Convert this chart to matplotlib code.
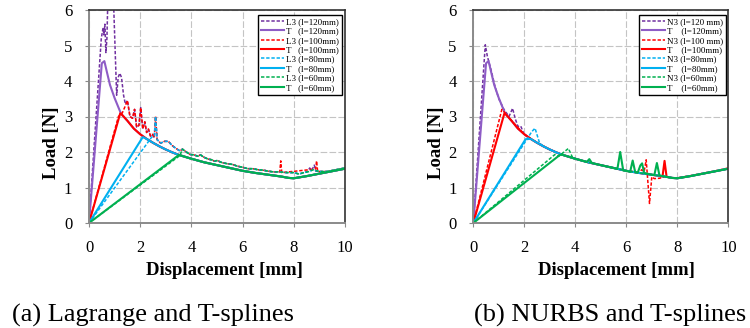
import matplotlib
matplotlib.use("Agg")
import matplotlib.pyplot as plt
import numpy as np

plt.rcParams['font.family'] = ['Liberation Serif', 'DejaVu Serif']

# common decay branch of the T-spline curves
env_x = [0.6, 0.7, 0.82, 1.0, 1.25, 1.5, 1.75, 2.0, 2.25, 2.5, 2.75, 3.0, 3.25, 3.5,
         4.0, 4.5, 5.0, 5.5, 6.0, 6.5, 7.0, 7.5, 7.8, 8.0, 8.5, 9.0, 9.5, 10.0]
env_y = [4.56, 4.25, 3.89, 3.52, 3.08, 2.88, 2.66, 2.5, 2.37, 2.26, 2.16, 2.07, 1.99, 1.92,
         1.81, 1.71, 1.63, 1.55, 1.47, 1.41, 1.36, 1.31, 1.27, 1.26, 1.32, 1.39, 1.46, 1.53]

# rising branches of T curves: (x, y) up to the peak
t120_head_x, t120_head_y = [0, 0.5], [0, 4.5]
t100_head_x, t100_head_y = [0, 1.22], [0, 3.09]
t80_head_x, t80_head_y = [0, 2.1], [0, 2.42]
t60_head_x, t60_head_y = [0, 3.48], [0, 1.9]

# (a) Lagrange L3 curves
l3_120_head_x = [0, 0.48, 0.55, 0.58, 0.62, 0.66, 0.7, 0.74, 0.9, 1.08, 1.14, 1.2, 1.27, 1.35, 1.42]
l3_120_head_y = [0, 5.2, 5.5, 5.3, 5.6, 4.8, 5.2, 6.4, 7.5, 3.6, 4.1, 4.22, 4.1, 3.6, 3.35]
l3_100_head_x = [0, 1.15, 1.3, 1.42]
l3_100_head_y = [0, 3.0, 3.1, 3.3]
l3_80_head_x = [0, 2.45, 2.55]
l3_80_head_y = [0, 2.42, 2.45]
l3_60_head_x = [0, 3.55]
l3_60_head_y = [0, 1.9]

l3_mid_x = [1.5, 1.6, 1.7, 1.78, 1.86, 1.95, 2.02, 2.1, 2.18, 2.25, 2.32, 2.4, 2.48, 2.55,
            2.6, 2.66, 2.8, 2.95, 3.1, 3.25, 3.4, 3.55]
l3_mid_y = [3.45, 3.0, 2.95, 3.2, 2.7, 2.75, 3.25, 2.65, 2.85, 2.55, 2.65, 2.45, 2.5, 2.4,
            3.0, 2.35, 2.25, 2.3, 2.3, 2.18, 2.1, 2.03]

l3_tail_x = [3.65, 3.8, 3.95, 4.1, 4.25, 4.35, 4.5, 4.65, 4.8, 4.9, 5.0, 5.2, 5.4, 5.6, 5.8,
             6.0, 6.2, 6.4, 6.6, 6.8, 7.0, 7.2, 7.4, 7.7, 8.0, 8.2, 8.4, 8.6, 8.75, 9.0, 9.3, 10.0]
l3_tail_y = [2.08, 2.0, 1.93, 1.92, 1.88, 1.92, 1.85, 1.8, 1.78, 1.74, 1.76, 1.7, 1.67, 1.65, 1.6,
             1.57, 1.53, 1.53, 1.5, 1.49, 1.46, 1.44, 1.44, 1.42, 1.42, 1.38, 1.42, 1.45, 1.5, 1.45, 1.45, 1.55]

# spikes of single L3 curves in the tail
l3_100_spike_x = [7.45, 7.49, 7.53, 8.85, 8.89, 8.93]
l3_100_spike_y = [1.44, 1.75, 1.42, 1.52, 1.75, 1.46]
l3_120_spike_x = [8.55, 8.62, 8.7, 8.8, 8.86]
l3_120_spike_y = [1.46, 1.55, 1.48, 1.63, 1.46]

# (b) NURBS N3 curves
n3_120_x = [0, 0.47, 0.55, 0.7, 0.85, 1.0, 1.2, 1.4, 1.54, 1.64, 1.75, 1.86, 1.99, 2.25]
n3_120_y = [0, 5.02, 4.7, 4.3, 3.85, 3.5, 3.2, 3.0, 3.23, 2.95, 2.72, 2.73, 2.5, 2.37]
n3_100_x = [0, 1.12, 1.25, 1.5, 2.0, 2.5, 3.0, 3.5, 4.0, 4.5, 5.0, 5.5, 6.0, 6.5, 6.6, 6.7,
            6.78, 6.91, 7.0, 7.1, 7.3, 7.5, 7.8, 8.0, 8.5, 9.0, 9.5, 10.0]
n3_100_y = [0, 3.2, 3.1, 2.88, 2.5, 2.26, 2.07, 1.92, 1.81, 1.71, 1.63, 1.55, 1.47, 1.42, 1.5, 1.45,
            1.78, 0.55, 1.3, 1.25, 1.26, 1.3, 1.27, 1.27, 1.33, 1.4, 1.47, 1.55]
n3_80_x = [0, 2.29, 2.42, 2.6]
n3_80_y = [0, 2.57, 2.67, 2.25]
n3_60_x = [0, 3.2, 3.35, 3.73, 3.9]
n3_60_y = [0, 1.93, 1.88, 2.1, 1.83]

# (b) T curves with spikes
t80b_head_x, t80b_head_y = [0, 2.05], [0, 2.36]
t100b_spike_x = [7.42, 7.5, 7.58]
t100b_spike_y = [1.31, 1.75, 1.3]
t60b_x = [0, 3.4, 3.5, 4.0, 4.45, 4.55, 4.65, 5.0, 5.5, 5.65, 5.76, 5.88, 6.0, 6.15, 6.25, 6.35,
          6.45, 6.55, 6.62, 6.7, 7.0, 7.1, 7.2, 7.3, 7.5, 7.8, 8.0, 8.5, 9.0, 9.5, 10.0]
t60b_y = [0, 1.92, 1.92, 1.81, 1.72, 1.8, 1.69, 1.63, 1.55, 1.52, 2.0, 1.48, 1.47, 1.44, 1.76, 1.43,
          1.42, 1.62, 1.68, 1.41, 1.36, 1.35, 1.69, 1.34, 1.31, 1.27, 1.26, 1.32, 1.39, 1.46, 1.53]

c_purple_d, c_purple = '#7030A0', '#8E5CC6'
c_red = '#FF0000'
c_blue = '#00B0F0'
c_green = '#00B050'


def join(hx, hy, tx, ty):
    # head points followed by the tail points that lie beyond the head
    xs, ys = list(hx), list(hy)
    for x, y in zip(tx, ty):
        if x > xs[-1]:
            xs.append(x)
            ys.append(y)
    return xs, ys


def merge(base_x, base_y, sx, sy):
    # insert spike points into a curve
    pts = [(x, y) for x, y in zip(base_x, base_y) if not (sx[0] <= x <= sx[-1])]
    pts += list(zip(sx, sy))
    pts.sort()
    return [p[0] for p in pts], [p[1] for p in pts]


def t_curve(hx, hy):
    return join(hx, hy, env_x, env_y)


def style_axes(ax, lbl_x):
    ax.set_xlim(0, 10)
    ax.set_ylim(0, 6)
    ax.set_xticks(range(0, 11, 2))
    ax.set_yticks(range(0, 7))
    ax.grid(True, color='#C4C4C4', linestyle=(0, (6, 2)), linewidth=0.8)
    ax.set_axisbelow(True)
    for s in ['top', 'right']:
        ax.spines[s].set_color('#333333')
        ax.spines[s].set_linewidth(1.2)
    for s in ['left', 'bottom']:
        ax.spines[s].set_color('#8A8A8A')
        ax.spines[s].set_linewidth(1.4)
    ax.tick_params(length=3, pad=9, labelsize=12, color='#8A8A8A')
    ax.text(-0.145, 0.378, 'Load [N]', transform=ax.transAxes, rotation=90,
            fontsize=13.5, fontweight='bold', ha='center', va='center')
    ax.text(lbl_x, -0.244, 'Displacement [mm]', transform=ax.transAxes,
            fontsize=13.5, fontweight='bold', ha='center', va='baseline')


fig = plt.figure(figsize=(7.5, 3.28), dpi=100)
ax1 = fig.add_axes([89 / 750, 105 / 328, 256 / 750, 213 / 328])
ax2 = fig.add_axes([473.3 / 750, 105 / 328, 255 / 750, 213 / 328])

lw_d, lw_s = 1.1, 1.5
dash = (2.2, 1.2)

# ---- (a) Lagrange and T-splines
x, y = join(l3_120_head_x, l3_120_head_y, l3_mid_x, l3_mid_y)
x, y = join(x, y, l3_tail_x, l3_tail_y)
x, y = merge(x, y, l3_120_spike_x, l3_120_spike_y)
ax1.plot(x, y, color=c_purple_d, lw=lw_d, dashes=dash, label='L3 (l=120mm)')
x, y = t_curve(t120_head_x, t120_head_y)
ax1.plot(x, y, color=c_purple, lw=lw_s, label='T   (l=120mm)')
x, y = join(l3_100_head_x, l3_100_head_y, l3_mid_x, l3_mid_y)
x, y = join(x, y, l3_tail_x, l3_tail_y)
x, y = merge(x, y, l3_100_spike_x, l3_100_spike_y)
ax1.plot(x, y, color=c_red, lw=lw_d, dashes=dash, label='L3 (l=100mm)')
x, y = t_curve(t100_head_x, t100_head_y)
ax1.plot(x, y, color=c_red, lw=lw_s, label='T   (l=100mm)')
x, y = join(l3_80_head_x, l3_80_head_y, l3_mid_x, l3_mid_y)
x, y = join(x, y, l3_tail_x, l3_tail_y)
ax1.plot(x, y, color=c_blue, lw=lw_d, dashes=dash, label='L3 (l=80mm)')
x, y = t_curve(t80_head_x, t80_head_y)
ax1.plot(x, y, color=c_blue, lw=lw_s, label='T   (l=80mm)')
x, y = join(l3_60_head_x, l3_60_head_y, l3_tail_x, l3_tail_y)
ax1.plot(x, y, color=c_green, lw=lw_d, dashes=dash, label='L3 (l=60mm)')
x, y = t_curve(t60_head_x, t60_head_y)
ax1.plot(x, y, color=c_green, lw=lw_s, label='T   (l=60mm)')

# ---- (b) NURBS and T-splines
x, y = join(n3_120_x, n3_120_y, env_x, env_y)
ax2.plot(x, y, color=c_purple_d, lw=lw_d, dashes=dash, label='N3 (l=120 mm)')
x, y = t_curve(t120_head_x, t120_head_y)
ax2.plot(x, y, color=c_purple, lw=lw_s, label='T    (l=120mm)')
ax2.plot(n3_100_x, n3_100_y, color=c_red, lw=lw_d, dashes=dash, label='N3 (l=100 mm)')
x, y = t_curve(t100_head_x, t100_head_y)
x, y = merge(x, y, t100b_spike_x, t100b_spike_y)
ax2.plot(x, y, color=c_red, lw=lw_s, label='T    (l=100mm)')
x, y = join(n3_80_x, n3_80_y, env_x, env_y)
ax2.plot(x, y, color=c_blue, lw=lw_d, dashes=dash, label='N3 (l=80mm)')
x, y = t_curve(t80b_head_x, t80b_head_y)
ax2.plot(x, y, color=c_blue, lw=lw_s, label='T    (l=80mm)')
x, y = join(n3_60_x, n3_60_y, env_x, env_y)
ax2.plot(x, y, color=c_green, lw=lw_d, dashes=dash, label='N3 (l=60mm)')
ax2.plot(t60b_x, t60b_y, color=c_green, lw=lw_s, label='T    (l=60mm)')

style_axes(ax1, 0.531)
style_axes(ax2, 0.563)

for ax, bx in [(ax1, (342 - 89) / 256), (ax2, (726 - 473.3) / 255)]:
    leg = ax.legend(loc='upper right', bbox_to_anchor=(bx, (223 - 15) / 213),
                    borderaxespad=0, fontsize=6.5, labelspacing=0.12, borderpad=0.3,
                    handlelength=2.6, handletextpad=0.2, fancybox=False, framealpha=1)
    leg.get_frame().set_edgecolor('black')
    leg.get_frame().set_linewidth(1.0)

fig.text(12 / 750, 6 / 328, '(a) Lagrange and T-splines', fontsize=19, ha='left', va='baseline')
fig.text(474 / 750, 6 / 328, '(b) NURBS and T-splines', fontsize=19, ha='left', va='baseline')

fig.savefig('out.png', dpi=100)
